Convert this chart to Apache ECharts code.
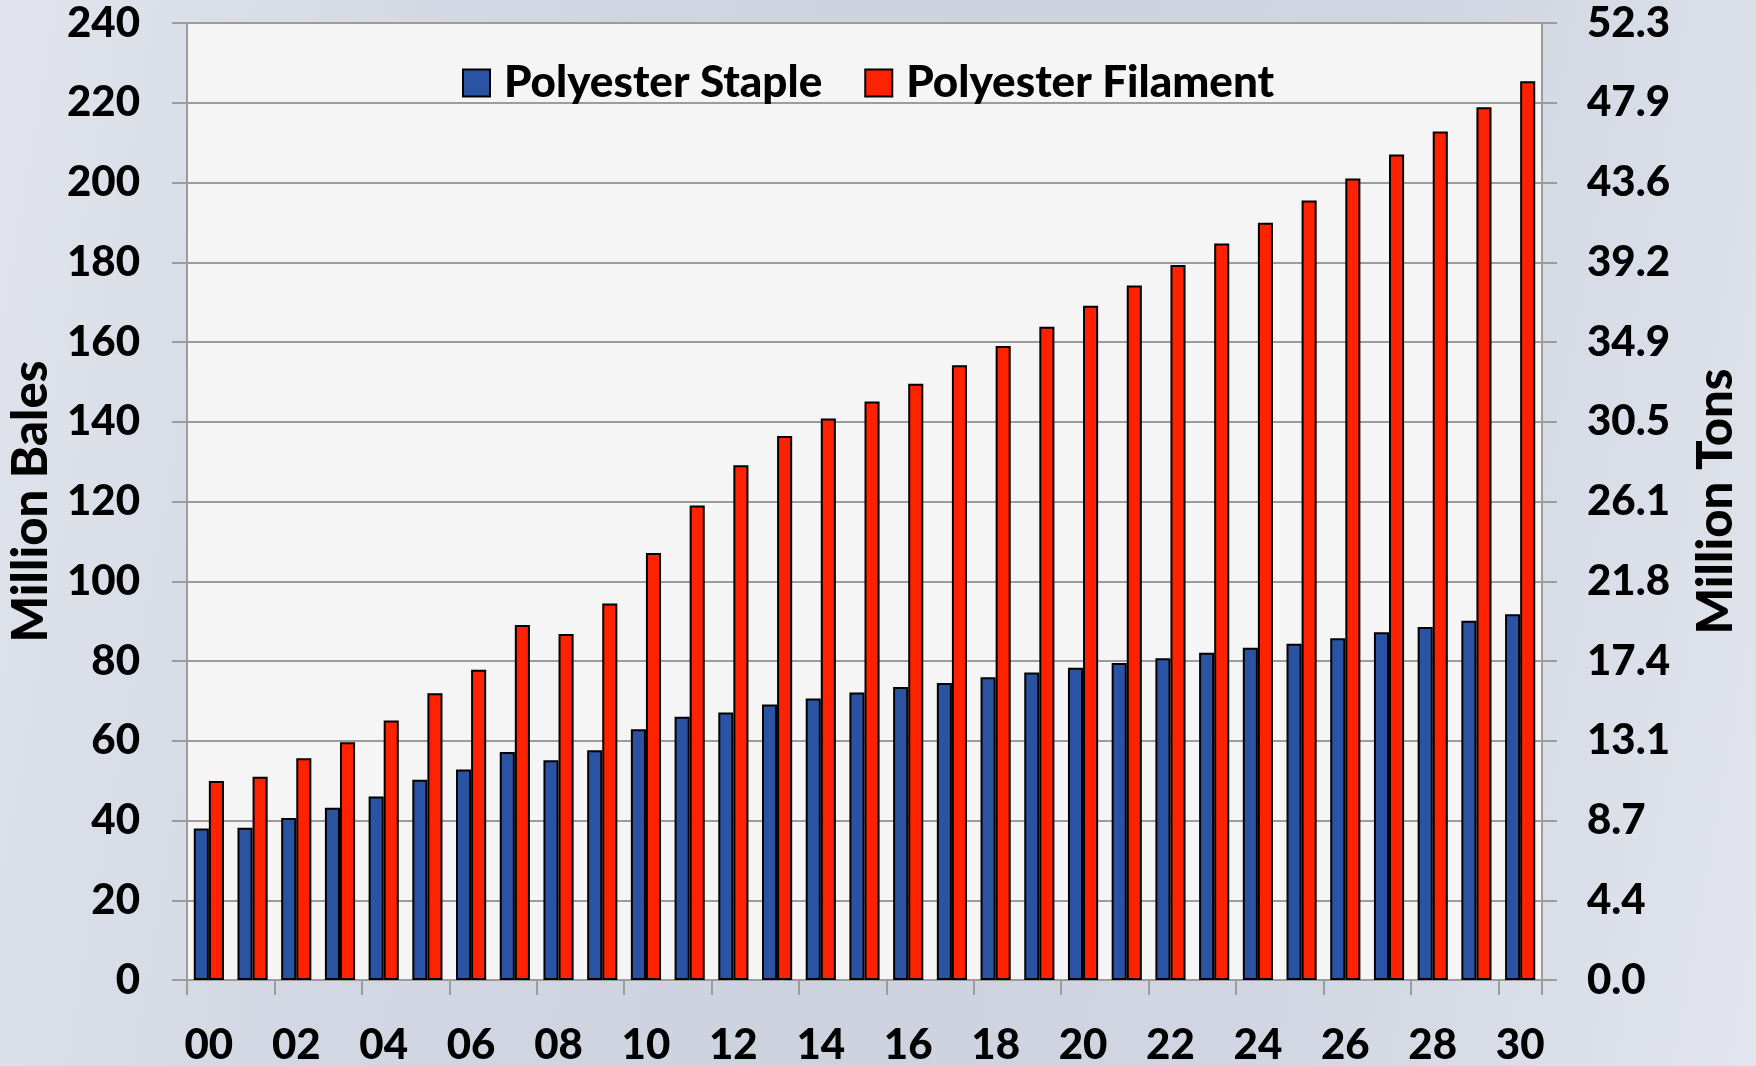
<!DOCTYPE html>
<html lang="en">
<head>
<meta charset="UTF-8">
<title>Polyester Staple vs Filament</title>
<script src="https://cdn.jsdelivr.net/npm/echarts@6/dist/echarts.min.js"></script>
<style>
    html, body, #content {
        width: 100%;
        height: 100%;
        margin: 0;
    }
    body {
        background: linear-gradient(100deg, #e1e4ec 0%, #d3d7e3 25%, #cdd2df 50%, #d2d6e2 75%, #e2e5ed 100%);
    }
</style>
</head>
<body>
<div id="content"></div>
<script>
// year labels (2000 - 2030)
var years = ['00','01','02','03','04','05','06','07','08','09','10','11','12','13','14','15',
             '16','17','18','19','20','21','22','23','24','25','26','27','28','29','30'];

// million bales
var staple = [38.0, 38.2, 40.6, 43.2, 46.0, 50.2, 52.8, 57.2, 55.1, 57.6, 62.9, 66.0, 67.1, 69.1, 70.6, 72.1,
              73.5, 74.5, 75.9, 77.1, 78.3, 79.5, 80.7, 82.1, 83.3, 84.3, 85.7, 87.2, 88.5, 90.1, 91.7];
var filament = [49.9, 51.0, 55.6, 59.6, 65.1, 71.9, 77.8, 89.0, 86.8, 94.4, 107.1, 119.0, 129.1, 136.4, 140.8, 145.1,
                149.5, 154.2, 159.0, 163.8, 169.1, 174.2, 179.3, 184.7, 189.9, 195.5, 201.0, 207.0, 212.8, 218.9, 225.4];

// right axis tick labels (million tons)
var tonsLabels = ['0.0','4.4','8.7','13.1','17.4','21.8','26.1','30.5','34.9','39.2','43.6','47.9','52.3'];

var chart = echarts.init(document.getElementById('content'));

var font = 'Lato';
var gridColor = '#9c9c9c';
var labelStyle = { fontFamily: font, fontWeight: 900, fontSize: 42, color: '#000' };

chart.setOption({
    backgroundColor: 'transparent',
    textStyle: { fontFamily: font },
    grid: {
        left: 187, right: 214, top: 23, bottom: 86,
        outerBoundsMode: 'none',
        containLabel: false,
        show: true,
        backgroundColor: '#f5f5f5',
        borderWidth: 0
    },
    legend: {
        left: 457,
        top: 56,
        itemWidth: 27,
        itemHeight: 27,
        itemGap: 42,
        icon: 'rect',
        textStyle: { fontFamily: font, fontWeight: 900, fontSize: 44, color: '#000', padding: [0, 0, 0, 9] },
        data: [
            { name: 'Polyester Staple', itemStyle: { color: '#2a54a3', borderColor: '#000', borderWidth: 2 } },
            { name: 'Polyester Filament', itemStyle: { color: '#ff2200', borderColor: '#000', borderWidth: 2 } }
        ]
    },
    xAxis: {
        type: 'category',
        data: years,
        axisLine: { lineStyle: { color: gridColor, width: 2 } },
        axisTick: { show: true, length: 15, lineStyle: { color: gridColor, width: 2 } },
        axisLabel: Object.assign({ interval: 1, margin: 44 }, labelStyle)
    },
    yAxis: [
        {
            type: 'value',
            min: 0, max: 240, interval: 20,
            name: 'Million Bales',
            nameLocation: 'middle',
            nameRotate: 90,
            nameGap: 128,
            nameTextStyle: { fontFamily: font, fontWeight: 900, fontSize: 49, color: '#000' },
            axisLine: { show: true, lineStyle: { color: gridColor, width: 2 } },
            axisTick: { show: true, length: 15, lineStyle: { color: gridColor, width: 2 } },
            axisLabel: Object.assign({ margin: 47 }, labelStyle),
            splitLine: { lineStyle: { color: gridColor, width: 2 } }
        },
        {
            type: 'value',
            min: 0, max: 240, interval: 20,
            position: 'right',
            name: 'Million Tons',
            nameLocation: 'middle',
            nameRotate: 90,
            nameGap: 150,
            nameTextStyle: { fontFamily: font, fontWeight: 900, fontSize: 49, color: '#000' },
            axisLine: { show: true, lineStyle: { color: gridColor, width: 2 } },
            axisTick: { show: true, length: 15, lineStyle: { color: gridColor, width: 2 } },
            axisLabel: Object.assign({
                margin: 45,
                formatter: function (v) { return tonsLabels[Math.round(v / 20)]; }
            }, labelStyle),
            splitLine: { show: false }
        }
    ],
    series: [
        {
            name: 'Polyester Staple',
            type: 'bar',
            data: staple,
            barGap: '0%',
            barCategoryGap: '31%',
            itemStyle: { color: '#2a54a3', borderColor: '#000', borderWidth: 2 }
        },
        {
            name: 'Polyester Filament',
            type: 'bar',
            data: filament,
            itemStyle: { color: '#ff2200', borderColor: '#000', borderWidth: 2 }
        }
    ]
});

window.onresize = chart.resize;
</script>
</body>
</html>
